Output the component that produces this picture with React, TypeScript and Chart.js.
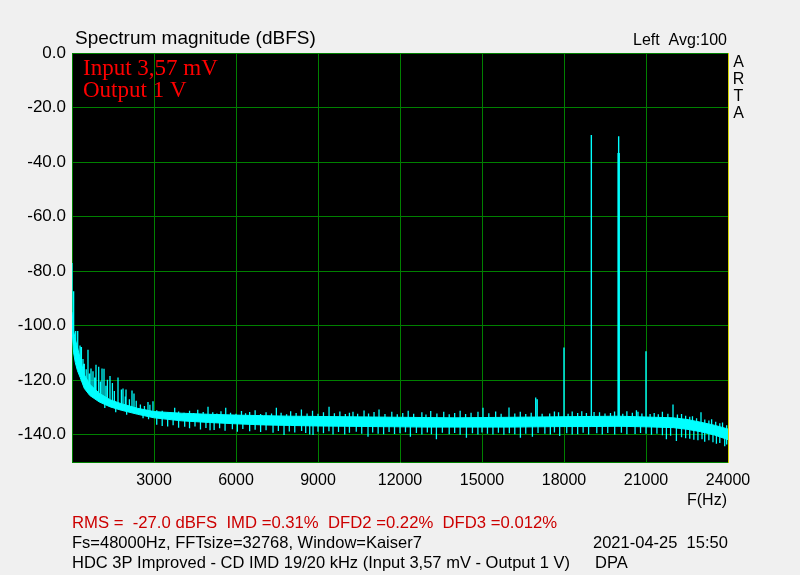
import React, { useEffect, useRef } from "react";
import { Chart, registerables } from "chart.js";

Chart.register(...registerables);

// ---- axis ticks ----
const xTickValues = [0, 3000, 6000, 9000, 12000, 15000, 18000, 21000, 24000];
const yTickValues = [0, -20, -40, -60, -80, -100, -120, -140];

// ---- noise floor band (solid core envelope) ----
const bandFreq = [0, 60, 120, 200, 300, 450, 650, 1000, 1400, 1800, 2400, 3000, 4000, 5000, 6000, 7000, 8000, 9000, 10000, 11000, 12000, 13000, 14000, 15000, 16000, 17000, 18000, 19000, 20000, 21000, 22000, 22500, 23000, 23500, 24000];
const bandTop = [-95, -102, -105, -108, -112, -118, -121.5, -124.8, -127.2, -128.6, -130.3, -131.5, -132.1, -132.5, -132.8, -133, -133.2, -133.3, -133.4, -133.5, -133.6, -133.7, -133.8, -133.7, -133.6, -133.5, -133.4, -133.3, -133.2, -133.5, -133.8, -134.4, -135.4, -136.5, -137.9];
const bandBottom = [-101, -110, -113.5, -116.5, -119, -123, -125.6, -128, -129.8, -131, -132.5, -133.8, -134.9, -135.5, -136, -136.4, -136.6, -136.8, -136.9, -137, -137.1, -137.2, -137.2, -137.2, -137.2, -137.1, -137, -137, -136.9, -137.1, -137.4, -138, -138.9, -140.1, -141.8];

// ---- upward noise peaks ----
const upSpikeFreq = [0, 60, 135, 209, 293, 344, 402, 450, 520, 585, 640, 695, 768, 830, 878, 977, 1040, 1098, 1171, 1240, 1295, 1390, 1478, 1550, 1683, 1807, 1866, 1950, 1976, 2100, 2195, 2268, 2350, 2502, 2650, 2780, 2850, 2963,
  3100, 3300, 3500, 3757, 3900, 4100, 4300, 4450, 4600, 4800, 4976, 5150, 5300, 5450, 5624, 5800, 6000, 6200, 6350, 6500, 6700, 6900, 7100, 7300, 7477, 7650, 7850, 8000, 8200, 8393, 8600, 8800, 9000, 9200, 9404, 9600, 9800, 10000, 10150, 10280, 10450, 10684, 10850, 11050, 11232, 11450, 11700, 11900, 12100, 12300, 12500, 12800, 12950, 13124, 13350, 13600, 13800, 14000, 14200, 14400, 14600, 14853, 15036, 15250, 15500, 15700, 15988, 16200, 16400, 16600, 16800, 16965, 17020, 17200, 17477, 17650, 17800, 18150, 18300, 18500, 18650, 18820, 19100, 19300, 19500, 19700, 19850, 20150, 20300, 20500, 20650, 20707, 20850, 21150, 21300, 21450, 21600, 21800, 21988, 22150, 22300, 22450, 22600, 22700, 22850, 23012, 23150, 23300, 23400, 23550, 23700, 23800, 23950];
const upSpikeDb = [-77, -87.4, -102, -102, -107.3, -107.8, -112.2, -114, -116, -108.8, -117.5, -115.7, -116.7, -119, -114.3, -115.1, -120.5, -115.7, -115.8, -122, -119.8, -118.5, -121, -124, -119, -123.4, -123, -126, -123.4, -127, -123.8, -124.9, -127.5, -128.9, -129.5, -128, -129, -127.7,
  -131, -131.2, -131.8, -130.1, -131.5, -131.9, -131.2, -132, -130.8, -131.7, -129.7, -131.8, -132.2, -131.4, -130.1, -131.9, -132.3, -131.3, -132.1, -131.7, -131, -132.4, -131.8, -132.2, -130.1, -131.9, -132.5, -131.4, -132, -130.7, -132.2, -131.2, -132.3, -131.8, -129.7, -132.1, -131.5, -132.4, -131.9, -131.6, -132.3, -131.1, -132.2, -131.7, -130.7, -132.4, -131.6, -132.5, -132, -131.2, -132.3, -131.8, -132.6, -131.3, -132.2, -131.6, -132.5, -132, -131.2, -132.4, -131.9, -131.6, -130.1, -132.1, -131.5, -132.3, -130, -132.2, -131.6, -132.4, -131.9, -126.3, -127, -132.3, -132.2, -131.5, -131.8, -132.3, -131.5, -132, -131.4, -132, -131.7, -131.8, -132.2, -132, -131.5, -132.3, -131.4, -131.9, -131, -131.6, -132.2, -132.4, -132, -132.5, -131.6, -132.3, -128.9, -132.6, -132.4, -133, -133.4, -133.2, -134, -131.8, -134.4, -134.8, -134.3, -135.2, -135.8, -135.5, -136.5];

// ---- downward noise dips ----
const downSpikeFreq = [1200, 1600, 2000, 2600, 2800,
  3100, 3300, 3500, 3700, 3900, 4123, 4300, 4500, 4700, 4900, 5050, 5200, 5400, 5600, 5868, 6050, 6250, 6500, 6700, 6900, 7100, 7355, 7550, 7757, 7950, 8150, 8400, 8550, 8697, 8818, 9000, 9200, 9400, 9550, 9750, 9977, 10150, 10400, 10600, 10830, 11000, 11200, 11400, 11600, 11800, 12000, 12200, 12380, 12600, 12800, 13000, 13150, 13332, 13550, 13800, 14000, 14200, 14430, 14650, 14850, 15000, 15200, 15400, 15600, 15800, 16000, 16200, 16405, 16600, 16844, 17050, 17300, 17500, 17650, 17843, 18100, 18300, 18500, 18700, 18900, 19200, 19400, 19600, 19855, 20100, 20300, 20600, 20800, 21000, 21200, 21400, 21600, 21746, 21900, 22112, 22300, 22450, 22600, 22750, 22900, 23050, 23148, 23300, 23450, 23576, 23700, 23880, 23950];
const downSpikeDb = [-130.2, -131.8, -132.7, -134, -134.3,
  -136.3, -136.8, -137, -136.5, -137.4, -137.1, -137.6, -137, -138.1, -137.5, -138.4, -138.3, -137.6, -138.5, -138, -138.9, -137.9, -138.7, -138.2, -139, -138.4, -139.3, -138.6, -140.1, -138.8, -139.2, -138.6, -139.4, -139.9, -140.1, -138.9, -139.5, -138.7, -139.9, -139, -139.9, -139.3, -138.9, -139.6, -140.7, -139.2, -139.6, -139.8, -139, -139.7, -139.5, -139.1, -140.7, -139.4, -139.9, -139.2, -139.8, -141.7, -139.3, -139.8, -139.4, -140, -141.1, -139.5, -139.9, -139.2, -139.6, -139.9, -139.3, -140, -139.5, -139.8, -141.1, -139.6, -140.7, -139.4, -139.6, -139.9, -139.2, -140.5, -139.5, -139.9, -139.8, -139.3, -139.9, -139.5, -139.9, -139.4, -139.9, -139.3, -139.8, -139.7, -139.4, -139.6, -140, -139.6, -140.2, -141.7, -140.4, -142.3, -140.9, -141.3, -141.5, -141.8, -142, -141.7, -142.6, -142, -142.8, -143.3, -143, -144.2, -143.6];

// ---- test tones and IMD products ----
const toneFreq = [18000, 19000, 20000, 21000];
const toneDb = [-108, -30.1, -30.5, -109.4];
const toneWideFreq = [20000];
const toneWideDb = [-36.7];

const CYAN = "#00ffff";
const GRID = "#008000";

function interp(f: number, xs: number[], ys: number[]): number {
  if (f <= xs[0]) return ys[0];
  for (let i = 1; i < xs.length; i++) {
    if (f <= xs[i]) {
      const t = (f - xs[i - 1]) / (xs[i] - xs[i - 1]);
      return ys[i - 1] + t * (ys[i] - ys[i - 1]);
    }
  }
  return ys[ys.length - 1];
}

function segments(freqs: number[], dbs: number[], baseArr: number[]) {
  const out: { x: number; y: number | null }[] = [];
  freqs.forEach((f, i) => {
    out.push({ x: f, y: interp(f, bandFreq, baseArr) });
    out.push({ x: f, y: dbs[i] });
    out.push({ x: f, y: null });
  });
  return out;
}

const bgPlugin = {
  id: "artaBg",
  beforeDraw(chart: any) {
    const { ctx, chartArea: a } = chart;
    ctx.save();
    ctx.fillStyle = "#f0f0f0";
    ctx.fillRect(0, 0, chart.width, chart.height);
    ctx.fillStyle = "#000000";
    ctx.fillRect(a.left, a.top, a.right - a.left, a.bottom - a.top);
    ctx.restore();
  },
  beforeDatasetsDraw(chart: any) {
    const { ctx, chartArea: a } = chart;
    ctx.save();
    ctx.lineWidth = 1;
    ctx.strokeStyle = GRID;
    ctx.beginPath();
    ctx.moveTo(a.left + 0.5, a.bottom + 0.5);
    ctx.lineTo(a.left + 0.5, a.top + 0.5);
    ctx.lineTo(a.right + 0.5, a.top + 0.5);
    ctx.moveTo(a.left, a.bottom + 0.5);
    ctx.lineTo(a.right + 1, a.bottom + 0.5);
    ctx.stroke();
    ctx.strokeStyle = "#d4d400";
    ctx.beginPath();
    ctx.moveTo(a.right + 0.5, a.top);
    ctx.lineTo(a.right + 0.5, a.bottom + 1);
    ctx.stroke();
    ctx.restore();
  },
  afterDraw(chart: any) {
    const { ctx } = chart;
    ctx.save();
    ctx.textBaseline = "alphabetic";
    ctx.fillStyle = "#000000";
    ctx.textAlign = "left";
    ctx.font = '19px "Liberation Sans", Arial, sans-serif';
    ctx.fillText("Spectrum magnitude (dBFS)", 75, 44);
    ctx.font = '16px "Liberation Sans", Arial, sans-serif';
    ctx.textAlign = "right";
    ctx.fillText("Left  Avg:100", 727, 45);
    ctx.textAlign = "center";
    ["A", "R", "T", "A"].forEach((c, i) => ctx.fillText(c, 738.5, 67 + i * 17));
    ctx.textAlign = "right";
    ctx.fillText("F(Hz)", 727, 505);
    ctx.textAlign = "left";
    ctx.fillStyle = "#cc0000";
    ctx.font = '16.7px "Liberation Sans", Arial, sans-serif';
    ctx.fillText("RMS =  -27.0 dBFS  IMD =0.31%  DFD2 =0.22%  DFD3 =0.012%", 72, 528);
    ctx.fillStyle = "#000000";
    ctx.font = '16.5px "Liberation Sans", Arial, sans-serif';
    ctx.fillText("Fs=48000Hz, FFTsize=32768, Window=Kaiser7", 72, 548);
    ctx.fillText("2021-04-25  15:50", 593, 548);
    ctx.fillText("HDC 3P Improved - CD IMD 19/20 kHz (Input 3,57 mV - Output 1 V)", 72, 568);
    ctx.fillText("DPA", 595, 568);
    ctx.fillStyle = "#ff0000";
    ctx.font = '23px "Liberation Serif", "Times New Roman", serif';
    ctx.fillText("Input 3,57 mV", 83, 75);
    ctx.fillText("Output 1 V", 83, 97);
    ctx.restore();
  },
};

export default function App() {
  const ref = useRef<HTMLCanvasElement | null>(null);

  useEffect(() => {
    if (!ref.current) return;
    const lowLine = bandFreq.map((f, i) => ({ x: f, y: bandBottom[i] }));
    const highLine = bandFreq.map((f, i) => ({ x: f, y: bandTop[i] }));
    const mid = bandTop.map((t, i) => (t + bandBottom[i]) / 2);

    const common = {
      pointRadius: 0,
      pointHoverRadius: 0,
      tension: 0,
      borderColor: CYAN,
      spanGaps: false,
    };

    const chart = new Chart(ref.current, {
      type: "line",
      data: {
        datasets: [
          { ...common, data: lowLine, borderWidth: 1, fill: false },
          { ...common, data: highLine, borderWidth: 1, fill: "-1", backgroundColor: CYAN },
          { ...common, data: segments(upSpikeFreq, upSpikeDb, mid), borderWidth: 1.3, fill: false },
          { ...common, data: segments(downSpikeFreq, downSpikeDb, mid), borderWidth: 1.3, fill: false },
          { ...common, data: segments(toneFreq, toneDb, bandBottom), borderWidth: 1.4, fill: false },
          { ...common, data: segments(toneWideFreq, toneWideDb, bandBottom), borderWidth: 2.5, fill: false },
        ] as any,
      },
      options: {
        animation: false,
        responsive: false,
        events: [],
        layout: { padding: { top: 53, right: 72, left: 0, bottom: 0 } },
        plugins: { legend: { display: false }, tooltip: { enabled: false } },
        scales: {
          x: {
            type: "linear",
            min: 0,
            max: 24000,
            afterBuildTicks: (s: any) => {
              s.ticks = xTickValues.map((v) => ({ value: v }));
            },
            afterFit: (s: any) => {
              s.height = 113;
            },
            grid: { color: GRID, drawTicks: false, lineWidth: 1 },
            border: { display: false },
            ticks: {
              padding: 9,
              color: "#000000",
              font: { family: '"Liberation Sans", Arial, sans-serif', size: 16 },
              maxRotation: 0,
              autoSkip: false,
              callback: (v: any) => (Number(v) === 0 ? "" : String(v)),
            },
          },
          y: {
            type: "linear",
            min: -150,
            max: 0,
            afterBuildTicks: (s: any) => {
              s.ticks = yTickValues.map((v) => ({ value: v }));
            },
            afterFit: (s: any) => {
              s.width = 72;
            },
            grid: { color: GRID, drawTicks: false, lineWidth: 1 },
            border: { display: false },
            ticks: {
              padding: 6,
              color: "#000000",
              font: { family: '"Liberation Sans", Arial, sans-serif', size: 17 },
              autoSkip: false,
              callback: (v: any) => Number(v).toFixed(1),
            },
          },
        },
      } as any,
      plugins: [bgPlugin],
    });
    return () => chart.destroy();
  }, []);

  return (
    <div style={{ position: "fixed", left: 0, top: 0, width: 800, height: 575, background: "#f0f0f0" }}>
      <canvas ref={ref} width={800} height={575} style={{ width: 800, height: 575, display: "block" }} />
    </div>
  );
}
